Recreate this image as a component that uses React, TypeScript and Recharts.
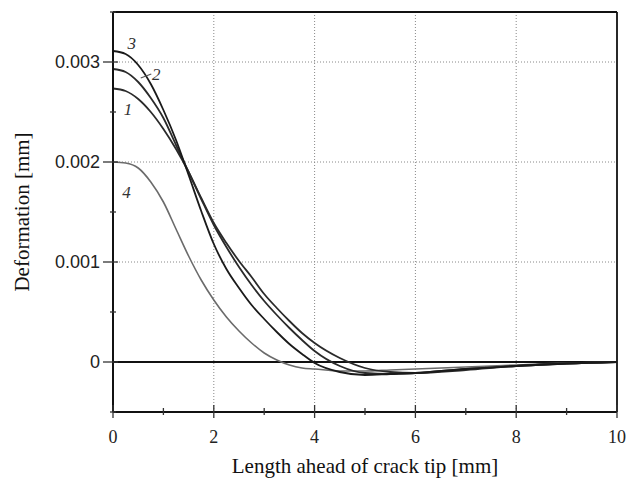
import { LineChart, Line, XAxis, YAxis, ReferenceLine, ReferenceDot } from 'recharts';

// Length ahead of crack tip [mm]
const xMm = [0, 0.25, 0.5, 0.75, 1, 1.25, 1.5, 1.75, 2, 2.25, 2.5, 2.75, 3, 3.25, 3.5, 3.75, 4, 4.5, 5, 5.5, 6, 7, 8, 9, 10];

// Deformation [mm]
const curve1 = [0.002735, 0.00271, 0.00263, 0.0025, 0.00233, 0.00213, 0.0019, 0.00164, 0.00139, 0.00119, 0.00101, 0.00085, 0.00068, 0.00054, 0.00041, 0.00029, 0.00019, 0.00004, -0.00006, -0.0001, -0.00011, -0.00008, -0.00004, -0.000015, 0];
const curve2 = [0.00293, 0.0029, 0.0028, 0.00264, 0.00244, 0.00217, 0.0019, 0.00163, 0.00137, 0.00115, 0.00095, 0.00077, 0.00061, 0.00047, 0.00034, 0.00022, 0.00011, -0.00004, -0.00011, -0.00012, -0.00011, -0.00007, -0.00004, -0.000015, 0];
const curve3 = [0.00311, 0.00308, 0.00297, 0.00278, 0.00252, 0.00222, 0.00187, 0.00151, 0.00118, 0.00093, 0.00074, 0.00057, 0.00043, 0.0003, 0.00018, 0.00008, -0.00001, -0.0001, -0.00013, -0.00012, -0.00011, -0.00007, -0.00004, -0.000015, 0];
const curve4 = [0.002, 0.00199, 0.00194, 0.0018, 0.0016, 0.00133, 0.00106, 0.00082, 0.00062, 0.00045, 0.00031, 0.00019, 0.00009, 0.00002, -0.00003, -0.00006, -0.00007, -0.00009, -0.00009, -0.00008, -0.00007, -0.00005, -0.00003, -0.00001, 0];

const xTicks = [0, 1, 2, 3, 4, 5, 6, 7, 8, 9, 10];
const xTickLabels = ['0', '', '2', '', '4', '', '6', '', '8', '', '10'];
const yTicks = [-0.0005, 0, 0.0005, 0.001, 0.0015, 0.002, 0.0025, 0.003, 0.0035];
const yTickLabels = ['', '0', '', '0.001', '', '0.002', '', '0.003', ''];
const gridX = [2, 4, 6, 8];
const gridY = [0.001, 0.002, 0.003];

// curve numbers written next to the curves
const curveNames = ['3', '2', '1', '4'];
const nameX = [0.37, 0.86, 0.3, 0.27];
const nameY = [0.00319, 0.00288, 0.00253, 0.0017];

const data = xMm.map((x, i) => ({ x, c1: curve1[i], c2: curve2[i], c3: curve3[i], c4: curve4[i] }));

const serif = '"Liberation Serif", "DejaVu Serif", serif';
const sans = '"Liberation Sans", Arial, sans-serif';

const XTick = (props: any) => {
  const { x, y, payload, index } = props;
  const label = xTickLabels[index] ?? '';
  const major = payload.value % 2 === 0;
  return (
    <g>
      <line x1={x} x2={x} y1={y - (major ? 7 : 4)} y2={y + (major ? 6 : 3)} stroke="#333" strokeWidth={1.3} />
      {label && (
        <text x={x} y={y + 31} textAnchor="middle" fontFamily={serif} fontSize={18} fill="#222">
          {label}
        </text>
      )}
    </g>
  );
};

const YTick = (props: any) => {
  const { x, y, index } = props;
  const label = yTickLabels[index] ?? '';
  const major = label !== '';
  return (
    <g>
      <line x1={x - (major ? 10 : 3)} x2={x + (major ? 5 : 3)} y1={y} y2={y} stroke="#333" strokeWidth={1.3} />
      {label && (
        <text x={x - 13} y={y + 6} textAnchor="end" fontFamily={sans} fontSize={18} fill="#222">
          {label}
        </text>
      )}
    </g>
  );
};

const YTitle = (props: any) => {
  const { viewBox } = props;
  const cx = viewBox.x + 9;
  const cy = viewBox.y + viewBox.height / 2;
  return (
    <text x={cx} y={cy} transform={`rotate(-90 ${cx} ${cy})`} dy={7} textAnchor="middle" fontFamily={serif} fontSize={21} fill="#111">
      Deformation [mm]
    </text>
  );
};

const XTitle = (props: any) => {
  const { viewBox } = props;
  return (
    <text x={viewBox.x + viewBox.width / 2} y={viewBox.y + 61} textAnchor="middle" fontFamily={serif} fontSize={21} fill="#111">
      Length ahead of crack tip [mm]
    </text>
  );
};

export default function App() {
  return (
    <div style={{ position: 'absolute', left: 0, top: 0, width: 628, height: 478, background: '#fff' }}>
      <LineChart width={628} height={478} data={data} margin={{ top: 12, right: 11, left: 13, bottom: 16 }}>
        {gridX.map((g) => (
          <ReferenceLine key={'gx' + g} x={g} stroke="#888" strokeDasharray="1 2" />
        ))}
        {gridY.map((g) => (
          <ReferenceLine key={'gy' + g} y={g} stroke="#888" strokeDasharray="1 2" />
        ))}
        <ReferenceLine y={0} stroke="#111" strokeWidth={1.8} />
        <ReferenceLine y={0.0035} stroke="#111" strokeWidth={1.8} />
        <ReferenceLine x={10} stroke="#111" strokeWidth={1.8} />
        <XAxis
          dataKey="x"
          type="number"
          domain={[0, 10]}
          ticks={xTicks}
          interval={0}
          height={50}
          tickLine={false}
          tickSize={0}
          tickMargin={0}
          axisLine={{ stroke: '#111', strokeWidth: 2 }}
          tick={<XTick />}
          label={<XTitle />}
        />
        <YAxis
          type="number"
          domain={[-0.0005, 0.0035]}
          ticks={yTicks}
          interval={0}
          width={100}
          tickLine={false}
          tickSize={0}
          tickMargin={0}
          axisLine={{ stroke: '#111', strokeWidth: 2 }}
          tick={<YTick />}
          label={<YTitle />}
        />
        <Line type="monotone" dataKey="c4" stroke="#6b6b6b" strokeWidth={1.6} dot={false} isAnimationActive={false} />
        <Line type="monotone" dataKey="c1" stroke="#2a2a2a" strokeWidth={1.8} dot={false} isAnimationActive={false} />
        <Line type="monotone" dataKey="c2" stroke="#2a2a2a" strokeWidth={1.8} dot={false} isAnimationActive={false} />
        <Line type="monotone" dataKey="c3" stroke="#1a1a1a" strokeWidth={1.8} dot={false} isAnimationActive={false} />
        <ReferenceLine segment={[{ x: 0.55, y: 0.00284 }, { x: 0.76, y: 0.00288 }]} stroke="#555" strokeWidth={1.2} />
        {curveNames.map((n, i) => (
          <ReferenceDot
            key={n}
            x={nameX[i]}
            y={nameY[i]}
            r={0}
            stroke="none"
            label={{ value: n, position: 'center', fontFamily: serif, fontStyle: 'italic', fontSize: 17, fill: '#333' }}
          />
        ))}
      </LineChart>
    </div>
  );
}
